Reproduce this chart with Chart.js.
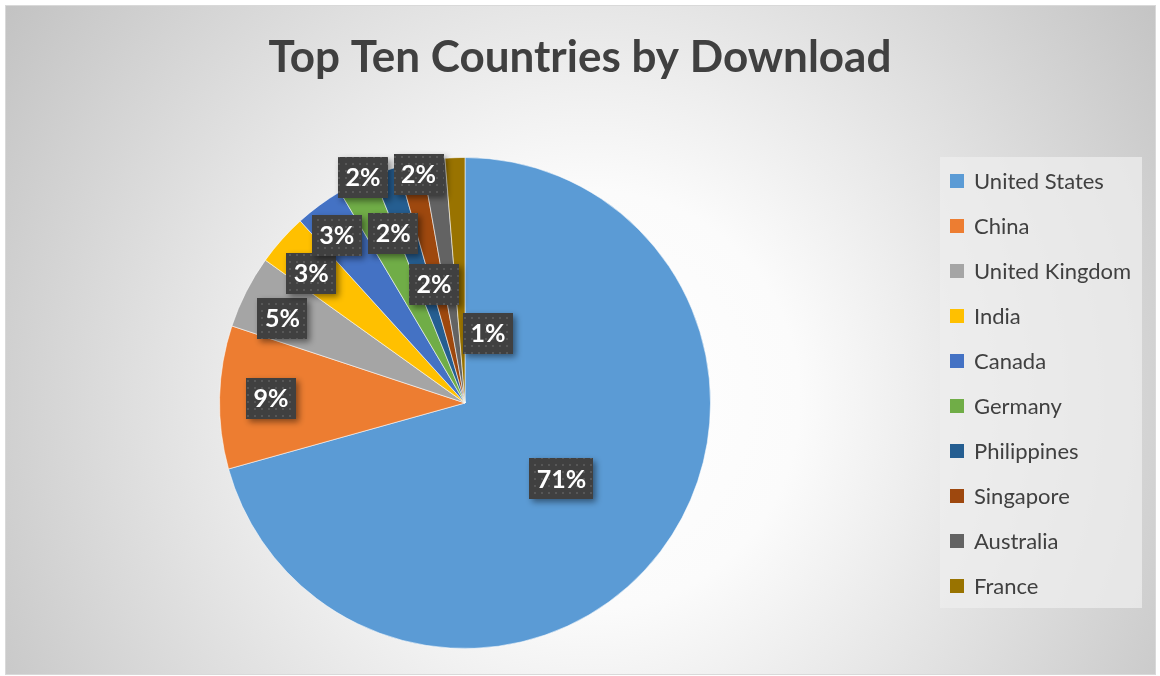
<!DOCTYPE html>
<html>
<head>
<meta charset="utf-8">
<title>Top Ten Countries by Download</title>
<script src="https://cdn.jsdelivr.net/npm/chart.js@4.4.1/dist/chart.umd.min.js"></script>
<style>
  html, body { margin: 0; padding: 0; background: #ffffff; }
  #wrap { position: relative; width: 1160px; height: 676px; }
</style>
</head>
<body>
<div id="wrap"><canvas id="downloadChart"></canvas></div>
<script>
// data (share of downloads, %)
const chartTitle = 'Top Ten Countries by Download';
const countries = ['United States', 'China', 'United Kingdom', 'India', 'Canada',
                   'Germany', 'Philippines', 'Singapore', 'Australia', 'France'];
const downloadShare = [70.6, 9.4, 4.8, 3.4, 3.2, 2.4, 1.7, 1.6, 1.5, 1.3];
const sliceColors = ['#5B9BD5', '#ED7D31', '#A5A5A5', '#FFC000', '#4472C4',
                     '#70AD47', '#255E91', '#9E480E', '#636363', '#997300'];

// best-fit style label placement: [angle offset from slice middle (deg), fraction of radius]
const labelPlacement = [[1, 0.50], [0, 0.79], [-2, 0.82], [-1.5, 0.82], [-1, 0.86],
                        [2, 1.01], [-4, 0.75], [1.5, 0.95], [-7.3, 0.50], [20.5, 0.30]];

const FONT = 'Lato, "Open Sans", "DejaVu Sans", sans-serif';

// frame with radial gray gradient, plus the title centred on the whole frame
const backgroundPlugin = {
    id: 'frameBackground',
    beforeDraw(chart) {
        const ctx = chart.ctx;
        const w = chart.width, h = chart.height;
        ctx.save();
        const g = ctx.createRadialGradient(590, 400, 0, 590, 400, 700);
        g.addColorStop(0, '#ffffff');
        g.addColorStop(0.3, '#fbfbfb');
        g.addColorStop(1, '#c3c3c3');
        ctx.fillStyle = g;
        ctx.fillRect(5, 5, w - 9, h - 6);
        ctx.strokeStyle = '#d9d9d9';
        ctx.lineWidth = 1;
        ctx.strokeRect(5.5, 5.5, w - 10, h - 7);

        ctx.fillStyle = '#404040';
        ctx.font = 'bold 44px ' + FONT;
        ctx.textAlign = 'center';
        ctx.textBaseline = 'middle';
        ctx.fillText(chartTitle, w / 2, 58);
        ctx.restore();
    }
};

// dark dotted data label boxes
let dotPattern = null;
function getPattern(ctx) {
    if (dotPattern) return dotPattern;
    const c = document.createElement('canvas');
    c.width = 7; c.height = 7;
    const p = c.getContext('2d');
    p.fillStyle = '#404040';
    p.fillRect(0, 0, 7, 7);
    p.fillStyle = '#575757';
    p.fillRect(2, 2, 2, 2);
    dotPattern = ctx.createPattern(c, 'repeat');
    return dotPattern;
}

const labelPlugin = {
    id: 'sliceLabels',
    afterDatasetsDraw(chart) {
        const ctx = chart.ctx;
        const meta = chart.getDatasetMeta(0);
        const values = chart.data.datasets[0].data;
        const total = values.reduce((a, b) => a + b, 0);
        ctx.save();
        ctx.font = 'bold 25px ' + FONT;
        ctx.textAlign = 'center';
        ctx.textBaseline = 'middle';
        meta.data.forEach((arc, i) => {
            const p = arc.getProps(['x', 'y', 'startAngle', 'endAngle', 'outerRadius'], true);
            const place = labelPlacement[i];
            const a = (p.startAngle + p.endAngle) / 2 + place[0] * Math.PI / 180;
            const cx = p.x + Math.cos(a) * p.outerRadius * place[1];
            const cy = p.y + Math.sin(a) * p.outerRadius * place[1];
            const text = Math.round(values[i] / total * 100) + '%';
            const bw = ctx.measureText(text).width + 15;
            const bh = 41;
            ctx.shadowColor = 'rgba(0,0,0,0.45)';
            ctx.shadowBlur = 6;
            ctx.shadowOffsetX = 3;
            ctx.shadowOffsetY = 3;
            ctx.fillStyle = getPattern(ctx);
            ctx.fillRect(Math.round(cx - bw / 2), Math.round(cy - bh / 2), Math.round(bw), bh);
            ctx.shadowColor = 'transparent';
            ctx.fillStyle = '#ffffff';
            ctx.fillText(text, cx, cy + 1);
        });
        ctx.restore();
    }
};

// legend drawn to the right of the plot area, in its own light box
const legendPlugin = {
    id: 'sideLegend',
    afterDraw(chart) {
        const ctx = chart.ctx;
        const area = chart.chartArea;
        const left = area.right + 15;
        const top = area.top;
        const rowGap = 45;
        ctx.save();
        ctx.fillStyle = 'rgba(238,238,238,0.75)';
        ctx.fillRect(left, top, 202, 24 + rowGap * (countries.length - 1) + 22);
        ctx.font = '22px ' + FONT;
        ctx.textBaseline = 'middle';
        ctx.textAlign = 'left';
        chart.data.labels.forEach((label, i) => {
            const y = top + 24 + i * rowGap;
            ctx.fillStyle = chart.data.datasets[0].backgroundColor[i];
            ctx.fillRect(left + 10, y - 7, 14, 14);
            ctx.fillStyle = '#404040';
            ctx.fillText(label, left + 34, y + 1);
        });
        ctx.restore();
    }
};

const ctx = document.getElementById('downloadChart').getContext('2d');
const chart = new Chart(ctx, {
    type: 'pie',
    data: {
        labels: countries,
        datasets: [{
            data: downloadShare,
            backgroundColor: sliceColors,
            borderColor: 'rgba(255,255,255,0.55)',
            borderWidth: 1
        }]
    },
    options: {
        responsive: true,
        maintainAspectRatio: false,
        animation: false,
        devicePixelRatio: 1,
        layout: {
            padding: { left: 5, right: 235, top: 157, bottom: 27 }
        },
        plugins: {
            legend: { display: false },
            tooltip: { enabled: false },
            title: { display: false }
        }
    },
    plugins: [backgroundPlugin, labelPlugin, legendPlugin]
});
</script>
</body>
</html>
